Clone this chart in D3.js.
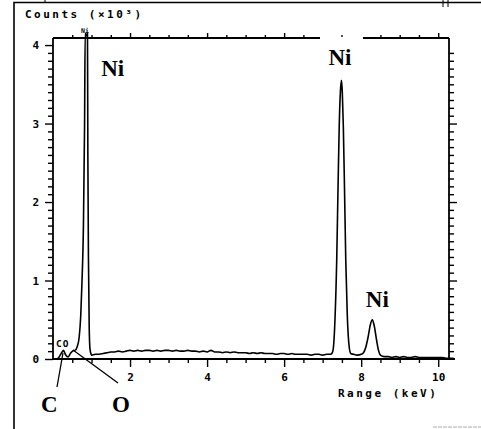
<!DOCTYPE html>
<html><head><meta charset="utf-8">
<script src="https://cdn.jsdelivr.net/npm/d3@7"></script>
<style>body{margin:0;background:#fff}svg{display:block}</style>
</head><body>
<script>
// Spectrum: energy (keV) and counts (x10^3)
const energy = [0.10,0.15,0.20,0.25,0.27,0.33,0.39,0.45,0.52,0.57,0.63,0.68,0.72,0.75,0.79,0.82,0.835,0.865,0.895,0.905,0.92,0.94,0.96,0.99,
 1.0,1.1,1.2,1.3,1.4,1.5,1.6,1.7,1.8,1.9,2.0,2.1,2.2,2.3,2.4,2.5,2.6,2.7,2.8,2.9,3.0,3.1,3.2,3.3,3.4,3.5,3.6,3.7,3.8,3.9,
 4.0,4.1,4.2,4.3,4.4,4.5,4.6,4.7,4.8,4.9,5.0,5.1,5.2,5.3,5.4,5.5,5.6,5.7,5.8,5.9,6.0,6.1,6.2,6.3,6.4,6.5,6.6,6.7,6.8,6.9,7.0,7.1,7.2,
 7.25,7.28,7.32,7.365,7.40,7.43,7.46,7.49,7.51,7.537,7.57,7.60,7.64,7.69,7.73,7.8,7.9,8.0,8.06,8.12,8.18,8.24,8.29,8.34,8.40,8.45,8.50,
 8.6,8.7,8.8,8.9,9.0,9.1,9.2,9.3,9.4,9.5,9.6,9.7,9.8,9.9,10.0,10.1,10.2,10.3,10.4];
const counts = [0.00,0.02,0.06,0.10,0.11,0.05,0.025,0.07,0.105,0.11,0.16,0.28,0.55,0.95,1.70,3.00,4.15,4.12,4.15,2.60,1.30,0.40,0.13,0.06,
 0.05,0.06,0.06,0.07,0.08,0.09,0.09,0.10,0.09,0.10,0.11,0.10,0.11,0.10,0.11,0.11,0.10,0.11,0.10,0.11,0.11,0.10,0.11,0.10,0.10,0.11,0.10,0.10,0.09,0.10,
 0.09,0.11,0.09,0.09,0.08,0.09,0.08,0.09,0.08,0.08,0.08,0.07,0.08,0.07,0.08,0.07,0.07,0.07,0.06,0.07,0.07,0.06,0.07,0.06,0.06,0.06,0.06,0.05,0.06,0.06,0.05,0.06,0.06,
 0.08,0.15,0.50,1.26,2.20,2.96,3.40,3.55,3.40,2.96,2.10,1.26,0.55,0.15,0.07,0.06,0.05,0.06,0.08,0.15,0.28,0.44,0.50,0.42,0.24,0.11,0.05,
 0.03,0.03,0.02,0.03,0.02,0.03,0.02,0.02,0.03,0.02,0.02,0.02,0.02,0.02,0.02,0.02,0.01,0.01,0.01];

const xMajor = [2,4,6,8,10];
const yMajor = [0,1,2,3,4];

// Peak annotations
const peakLabels = [
  {text:"Ni", e:1.25, v:3.6},
  {text:"Ni", e:7.15, v:3.75},
  {text:"Ni", e:8.12, v:0.66}
];

const W = 481, H = 429;
const svg = d3.select("body").append("svg").attr("width", W).attr("height", H);

const x = d3.scaleLinear().domain([0, 10.28]).range([53, 449]);
const y = d3.scaleLinear().domain([0, 4.09]).range([359, 38]);

// outer frame fragments
svg.append("path").attr("d","M14,429V2.5H481").attr("fill","none").attr("stroke","#000").attr("stroke-width",1.6);
svg.append("path").attr("d","M45,0V3M443,0V7M448,0V7").attr("stroke","#000").attr("stroke-width",1);
svg.append("line").attr("x1",433).attr("x2",481).attr("y1",427).attr("y2",427).attr("stroke","#aaa").attr("stroke-width",1).attr("stroke-dasharray","4,1");

const minorY = d3.range(0, 41).map(d => d/10).filter(v => !yMajor.includes(Math.round(v*10)/10));
const minorX = d3.range(1, 21).map(d => d/2).filter(v => !xMajor.includes(v));

// axes
const leftAx = svg.append("g").attr("transform", `translate(${x(0)},0)`);
leftAx.call(d3.axisLeft(y).tickValues(minorY).tickSize(5).tickFormat(""));
const leftMaj = svg.append("g").attr("transform", `translate(${x(0)},0)`);
leftMaj.call(d3.axisLeft(y).tickValues(yMajor).tickSize(8).tickPadding(6).tickFormat(d3.format("d")));

const rightAx = svg.append("g").attr("transform", `translate(449,0)`);
rightAx.call(d3.axisRight(y).tickValues(minorY).tickSize(5).tickFormat(""));
const rightMaj = svg.append("g").attr("transform", `translate(449,0)`);
rightMaj.call(d3.axisRight(y).tickValues([1,2,3]).tickSize(8).tickFormat(""));

const bottomAx = svg.append("g").attr("transform", `translate(0,${y(0)})`);
bottomAx.call(d3.axisBottom(x).tickValues(minorX).tickSize(4).tickFormat(""));
const bottomMaj = svg.append("g").attr("transform", `translate(0,${y(0)})`);
bottomMaj.call(d3.axisBottom(x).tickValues(xMajor).tickSize(8).tickPadding(6).tickFormat(d3.format("d")));

const topAx = svg.append("g").attr("transform", `translate(0,38)`);
topAx.call(d3.axisTop(x).tickValues(minorX.filter(v => x(v) < 320 || x(v) > 362)).tickSize(3).tickFormat(""));
const topMaj = svg.append("g").attr("transform", `translate(0,38)`);
topMaj.call(d3.axisTop(x).tickValues([2,4,6,8,10].filter(v => x(v) < 320 || x(v) > 362)).tickSize(5).tickFormat(""));

svg.selectAll(".domain").remove();
svg.selectAll(".tick line").attr("stroke","#000").attr("stroke-width",1.4);
svg.selectAll(".tick text").attr("font-family","DejaVu Sans Mono").attr("font-weight","bold").attr("font-size",11).attr("fill","#000");

// axis lines
const ax = svg.append("g").attr("stroke","#000").attr("stroke-width",1.8).attr("fill","none");
ax.append("line").attr("x1",x(0)).attr("x2",x(0)).attr("y1",38).attr("y2",y(0));
ax.append("line").attr("x1",449).attr("x2",449).attr("y1",38).attr("y2",y(0));
ax.append("line").attr("x1",x(0)).attr("x2",455).attr("y1",y(0)).attr("y2",y(0));
ax.append("line").attr("x1",x(0)).attr("x2",320).attr("y1",38).attr("y2",38);
ax.append("line").attr("x1",363).attr("x2",449).attr("y1",38).attr("y2",38);
svg.append("circle").attr("cx",342).attr("cy",36).attr("r",0.9).attr("fill","#000");

// spectrum
const pts = energy.map((e,i)=>[e, counts[i]]);
svg.append("path").datum(pts)
  .attr("d", d3.line().x(d=>x(d[0])).y(d=>y(d[1])).curve(d3.curveMonotoneX))
  .attr("fill","none").attr("stroke","#000").attr("stroke-width",1.6).attr("stroke-linejoin","round");

// texts
const mono = (sel)=>sel.attr("font-family","DejaVu Sans Mono").attr("font-weight","bold").attr("fill","#000");
mono(svg.append("text").attr("x",25).attr("y",18).attr("font-size",11).attr("letter-spacing","2.5px").text("Counts (\u00d710\u00b3)"));
mono(svg.append("text").attr("x",338).attr("y",397).attr("font-size",11).attr("letter-spacing","2.5px").text("Range (keV)"));
mono(svg.append("text").attr("x",81).attr("y",33).attr("font-size",6.5).text("Ni"));
mono(svg.append("text").attr("x",56).attr("y",347).attr("font-size",9.5).attr("letter-spacing","1px").text("CO"));

const serif = (sel)=>sel.attr("font-family","Liberation Serif").attr("font-weight","bold").attr("fill","#000").attr("font-size",23);
peakLabels.forEach(p=>{
  serif(svg.append("text").attr("x",x(p.e)).attr("y",y(p.v)).text(p.text));
});
serif(svg.append("text").attr("x",41).attr("y",412).text("C"));
serif(svg.append("text").attr("x",112).attr("y",412).text("O"));

// leader lines
svg.append("path").attr("d","M57,387L63,353M118,383L73,350").attr("stroke","#000").attr("stroke-width",1.3).attr("fill","none");
</script>
</body></html>
